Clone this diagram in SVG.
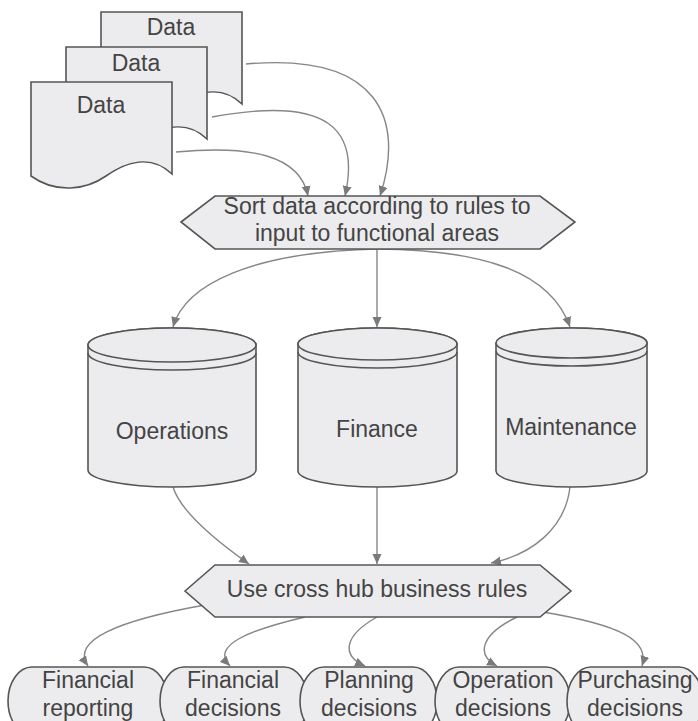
<svg xmlns="http://www.w3.org/2000/svg" width="698" height="721" viewBox="0 0 698 721">
<defs>
<style>
.shape{fill:#ececee;stroke:#555;stroke-width:1.6}
.line{fill:none;stroke:#868686;stroke-width:1.4;marker-end:url(#arr)}
text{font-family:"Liberation Sans",Arial,sans-serif;font-size:23px;fill:#444;text-anchor:middle}
</style>
<marker id="arr" markerUnits="userSpaceOnUse" markerWidth="10" markerHeight="10" viewBox="0 0 10 10" refX="10" refY="5" orient="auto">
<path d="M0,0.5 L10,5 L0,9.5 z" fill="#7a7a7a"/>
</marker>
<path id="doc" d="M0,0 H141 V92 C120,72 95,80 75,94 C55,108 25,112 0,94 Z"/>
</defs>
<rect width="698" height="721" fill="#fff"/>

<g id="connectors">
<path class="line" d="M176,152 C250,145 300,155 308,196"/>
<path class="line" d="M212,117 C330,95 360,130 345,196"/>
<path class="line" d="M246,64 C380,52 405,120 380,196"/>
<path class="line" d="M377,249 C250,252 185,285 173,327"/>
<path class="line" d="M377,249 L377,327"/>
<path class="line" d="M377,249 C480,250 550,270 570,327"/>
<path class="line" d="M173,487 C180,510 215,540 249,564"/>
<path class="line" d="M377,487 L377,564"/>
<path class="line" d="M570,487 C565,530 530,555 491,563"/>
<path class="line" d="M205,605 C120,620 70,640 88,666"/>
<path class="line" d="M305,617 C250,630 210,645 230,666"/>
<path class="line" d="M377,617 C345,635 340,655 365,666"/>
<path class="line" d="M517,617 C480,635 476,655 497,666"/>
<path class="line" d="M543,612 C620,625 650,640 642,666"/>
</g>

<g id="data3">
<use href="#doc" x="101" y="12" class="shape"/>
<text x="171" y="35">Data</text>
</g>
<g id="data2">
<use href="#doc" x="66" y="47" class="shape"/>
<text x="136" y="71">Data</text>
</g>
<g id="data1">
<use href="#doc" x="31" y="82" class="shape"/>
<text x="101" y="113">Data</text>
</g>

<g id="sort">
<polygon class="shape" points="181,222 215,196 540,196 575,222 540,249 215,249"/>
<text x="377" y="214">Sort data according to rules to</text>
<text x="377" y="241">input to functional areas</text>
</g>

<g id="operations">
<path class="shape" d="M88,345 V470 A84,17 0 0 0 256,470 V345 A84,17 0 0 0 88,345 Z"/>
<path class="shape" d="M88,345 A84,17 0 0 0 256,345 A84,17 0 0 0 88,345 Z"/>
<path fill="none" stroke="#555" stroke-width="1.6" d="M88,353 A84,17 0 0 0 256,353"/>
<text x="172" y="439">Operations</text>
</g>

<g id="finance">
<path class="shape" d="M298,344 V471 A79.5,16 0 0 0 457,471 V344 A79.5,16 0 0 0 298,344 Z"/>
<path class="shape" d="M298,344 A79.5,16 0 0 0 457,344 A79.5,16 0 0 0 298,344 Z"/>
<path fill="none" stroke="#555" stroke-width="1.6" d="M298,352 A79.5,16 0 0 0 457,352"/>
<text x="377" y="437">Finance</text>
</g>

<g id="maintenance">
<path class="shape" d="M496,343 V471 A75.5,16 0 0 0 647,471 V343 A75.5,15 0 0 0 496,343 Z"/>
<path class="shape" d="M496,343 A75.5,15 0 0 0 647,343 A75.5,15 0 0 0 496,343 Z"/>
<path fill="none" stroke="#555" stroke-width="1.6" d="M496,351 A75.5,15 0 0 0 647,351"/>
<text x="571" y="435">Maintenance</text>
</g>

<g id="crosshub">
<polygon class="shape" points="185,591 215,565 540,565 571,591 540,617 215,617"/>
<text x="377" y="597">Use cross hub business rules</text>
</g>

<g id="n1">
<rect class="shape" x="8" y="667" width="160" height="68" rx="24" ry="34"/>
<text x="88" y="688">Financial</text>
<text x="88" y="716">reporting</text>
</g>
<g id="n2">
<rect class="shape" x="160" y="667" width="148" height="68" rx="24" ry="34"/>
<text x="233" y="688">Financial</text>
<text x="233" y="716">decisions</text>
</g>
<g id="n3">
<rect class="shape" x="300" y="667" width="137" height="68" rx="24" ry="34"/>
<text x="369" y="688">Planning</text>
<text x="369" y="716">decisions</text>
</g>
<g id="n4">
<rect class="shape" x="435" y="667" width="135" height="68" rx="24" ry="34"/>
<text x="503" y="688">Operation</text>
<text x="503" y="716">decisions</text>
</g>
<g id="n5">
<rect class="shape" x="567" y="667" width="136" height="68" rx="24" ry="34"/>
<text x="635" y="688">Purchasing</text>
<text x="635" y="716">decisions</text>
</g>
</svg>
